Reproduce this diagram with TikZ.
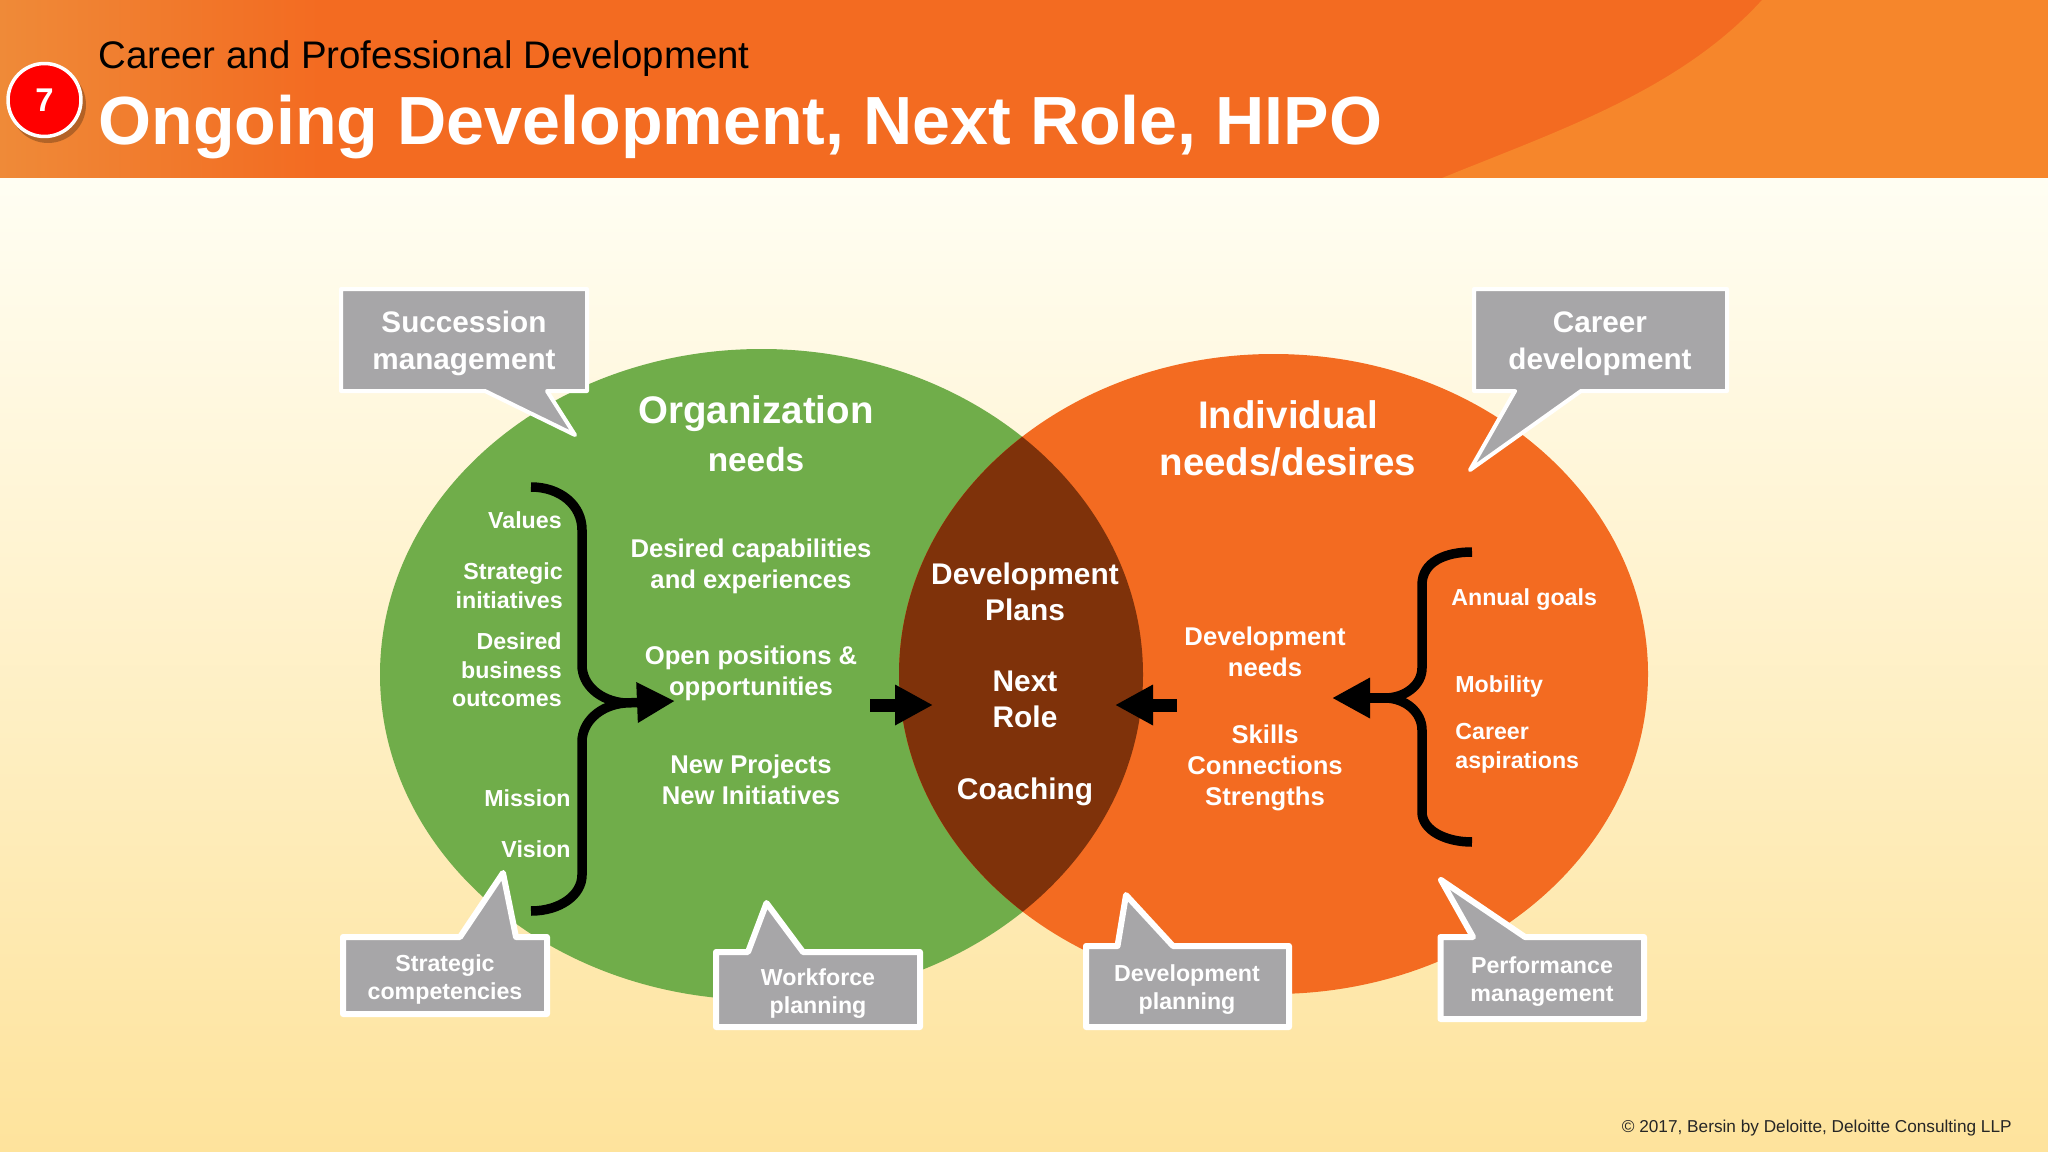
\documentclass[tikz,border=0pt]{standalone}
\usepackage{fontspec}
\setmainfont{Liberation Sans}
\usetikzlibrary{arrows.meta}

\definecolor{bandorange}{HTML}{F36B21}
\definecolor{bandlight}{HTML}{F6862B}
\definecolor{bandleft}{HTML}{EF8A38}
\definecolor{needgreen}{HTML}{70AD4A}
\definecolor{lensbrown}{HTML}{7F320A}
\definecolor{calloutgrey}{HTML}{A7A6A8}
\definecolor{slidetop}{HTML}{FFFEF3}
\definecolor{slidemid}{HTML}{FFF5D9}
\definecolor{slidebottom}{HTML}{FEE39C}

\tikzset{
    callout/.style={draw=white,fill=calloutgrey,line width=0.12cm,line join=round},
    topcallout/.style={callout,line width=0.08cm},
    bigcallouttext/.style={text=white,align=center,inner sep=0pt,font=\fontsize{16.9}{20.8}\selectfont\bfseries},
    smallcallouttext/.style={text=white,align=center,inner sep=0pt,font=\fontsize{13.2}{16.3}\selectfont\bfseries},
    heading/.style={text=white,align=center,inner sep=0pt,font=\fontsize{21.9}{27.2}\selectfont\bfseries},
    centertext/.style={text=white,align=center,inner sep=0pt,font=\fontsize{14.6}{17.6}\selectfont\bfseries},
    lenstext/.style={text=white,align=center,inner sep=0pt,font=\fontsize{17}{20.8}\selectfont\bfseries},
    listleft/.style={text=white,align=right,anchor=east,inner sep=0pt,font=\fontsize{13.2}{16.3}\selectfont\bfseries},
    listright/.style={text=white,align=left,anchor=west,inner sep=0pt,font=\fontsize{13.2}{16.3}\selectfont\bfseries},
    brace/.style={line width=0.19cm},
    bracearrow/.style={line width=0.19cm,-{Triangle[length=0.76cm,width=0.76cm]}},
    midarrow/.style={line width=0.26cm,-{Triangle[length=0.76cm,width=0.76cm]}}
}

\begin{document}
\begin{tikzpicture}[x=0.02cm,y=-0.02cm]
    \useasboundingbox (0,0) rectangle (2048,1152);

    % slide and title band
    \fill[top color=slidetop,middle color=slidemid,bottom color=slidebottom] (0,178) rectangle (2048,1152);
    \fill[left color=bandleft,right color=bandorange] (0,0) rectangle (320,178);
    \fill[bandorange] (320,0) rectangle (1800,178);
    \fill[bandlight] (1442,178) .. controls (1560,130) and (1680,90) .. (1762,0) -- (2048,0) -- (2048,178) -- cycle;

    \fill[black,opacity=0.25] (48,105) circle [radius=38];
    \node[circle,draw=white,fill=red,line width=0.07cm,minimum size=1.46cm,inner sep=0pt,text=white,font=\fontsize{18.7}{20}\selectfont\bfseries] (badge) at (44.5,100) {7};
    \node[anchor=base west,inner sep=0pt,font=\fontsize{21.87}{24}\selectfont] (subtitle) at (98,69) {Career and Professional Development};
    \node[anchor=base west,inner sep=0pt,text=white,font=\fontsize{38.8}{44}\selectfont\bfseries] (title) at (98,145) {Ongoing Development, Next Role, HIPO};

    % the two ellipses
    \fill[needgreen] (761.5,674.5) ellipse [x radius=381.5,y radius=325.5];
    \fill[bandorange] (1273.5,674) ellipse [x radius=374.5,y radius=320];
    \begin{scope}
        \clip (761.5,674.5) ellipse [x radius=381.5,y radius=325.5];
        \fill[lensbrown] (1273.5,674) ellipse [x radius=374.5,y radius=320];
    \end{scope}

    % callouts
    \draw[topcallout] (341,289) -- (587,289) -- (587,391) -- (547,391) -- (575,435) -- (485,391) -- (341,391) -- cycle;
    \draw[topcallout] (1474,289) -- (1727,289) -- (1727,391) -- (1581,391) -- (1470,470) -- (1515,391) -- (1474,391) -- cycle;
    \draw[callout] (343,937) -- (460,937) -- (503,873) -- (516,937) -- (547,937) -- (547,1014) -- (343,1014) -- cycle;
    \draw[callout] (716,952) -- (748,952) -- (766.5,903) -- (803,952) -- (920,952) -- (920,1027) -- (716,1027) -- cycle;
    \draw[callout] (1086,946) -- (1117.5,946) -- (1126,895) -- (1173,946) -- (1289,946) -- (1289,1027) -- (1086,1027) -- cycle;
    \draw[callout] (1440.5,937) -- (1473,937) -- (1441,880) -- (1525,937) -- (1644,937) -- (1644,1019) -- (1440.5,1019) -- cycle;

    \node[bigcallouttext] (succession) at (464,343.5) {Succession\\management};
    \node[bigcallouttext] (career) at (1600,343.5) {Career\\development};
    \node[smallcallouttext] (strategic) at (445,979.5) {Strategic\\competencies};
    \node[smallcallouttext] (workforce) at (818,993.5) {Workforce\\planning};
    \node[smallcallouttext] (planning) at (1187,989.5) {Development\\planning};
    \node[smallcallouttext] (performance) at (1542,981.5) {Performance\\management};

    % texts in the ellipses
    \node[heading] (orgneeds) at (756,434) {Organization\\{\fontsize{19}{27.2}\selectfont needs}};
    \node[heading] (indneeds) at (1288,438.5) {Individual\\needs/desires};

    \node[listleft] (values) at (562,520.5) {Values};
    \node[listleft] (initiatives) at (563,586) {Strategic\\initiatives};
    \node[listleft] (outcomes) at (562,670) {Desired\\business\\outcomes};
    \node[listleft] (mission) at (571,798.5) {Mission};
    \node[listleft] (vision) at (571,849.5) {Vision};

    \node[centertext] (capabilities) at (751,566.5) {Desired capabilities\\and experiences};
    \node[centertext] (positions) at (751,673.5) {Open positions \&\\opportunities};
    \node[centertext] (projects) at (751,779.5) {New Projects\\New Initiatives};

    \node[lenstext] (plans) at (1025,592) {Development\\Plans};
    \node[lenstext] (nextrole) at (1025,699.5) {Next\\Role};
    \node[lenstext] (coaching) at (1025,791.5) {Coaching};

    \node[centertext] (devneeds) at (1265,652) {Development\\needs};
    \node[centertext] (skills) at (1265,767.5) {Skills\\Connections\\Strengths};

    \node[listright] (goals) at (1451,599.5) {Annual goals};
    \node[listright] (mobility) at (1455,686.5) {Mobility};
    \node[listright] (aspirations) at (1455,748.5) {Career\\aspirations};

    % braces
    \coordinate (lefttop) at (531,487);
    \coordinate (leftbottom) at (531,911);
    \coordinate (lefttip) at (675,701);
    \coordinate (leftjoin) at (625,703);
    \coordinate (righttop) at (1472,552);
    \coordinate (rightbottom) at (1472,842);
    \coordinate (righttip) at (1332,698);
    \coordinate (rightjoin) at (1385,698);

    \draw[brace] (lefttop) .. controls (560,487) and (582,505) .. (582,530) -- (582,665) .. controls (582,685) and (600,701) .. (leftjoin);
    \draw[brace] (leftjoin) .. controls (600,705) and (582,722) .. (582,742) -- (582,875) .. controls (582,895) and (560,911) .. (leftbottom);
    \draw[bracearrow] (leftjoin) -- (lefttip);

    \draw[brace] (righttop) .. controls (1445,552) and (1422,562) .. (1422,585) -- (1422,668) .. controls (1422,685) and (1405,698) .. (rightjoin);
    \draw[brace] (rightjoin) .. controls (1405,698) and (1422,712) .. (1422,730) -- (1422,812) .. controls (1422,830) and (1445,842) .. (rightbottom);
    \draw[bracearrow] (rightjoin) -- (righttip);

    % arrows into the middle
    \coordinate (orgstart) at (870,705);
    \coordinate (orgtip) at (933,705);
    \coordinate (indstart) at (1177,705);
    \coordinate (indtip) at (1115,705);
    \draw[midarrow] (orgstart) -- (orgtip);
    \draw[midarrow] (indstart) -- (indtip);

    \node[anchor=east,inner sep=0pt,text=black!85,font=\fontsize{9.8}{12}\selectfont] (copyright) at (2012,1128) {© 2017, Bersin by Deloitte, Deloitte Consulting LLP};
\end{tikzpicture}
\end{document}
